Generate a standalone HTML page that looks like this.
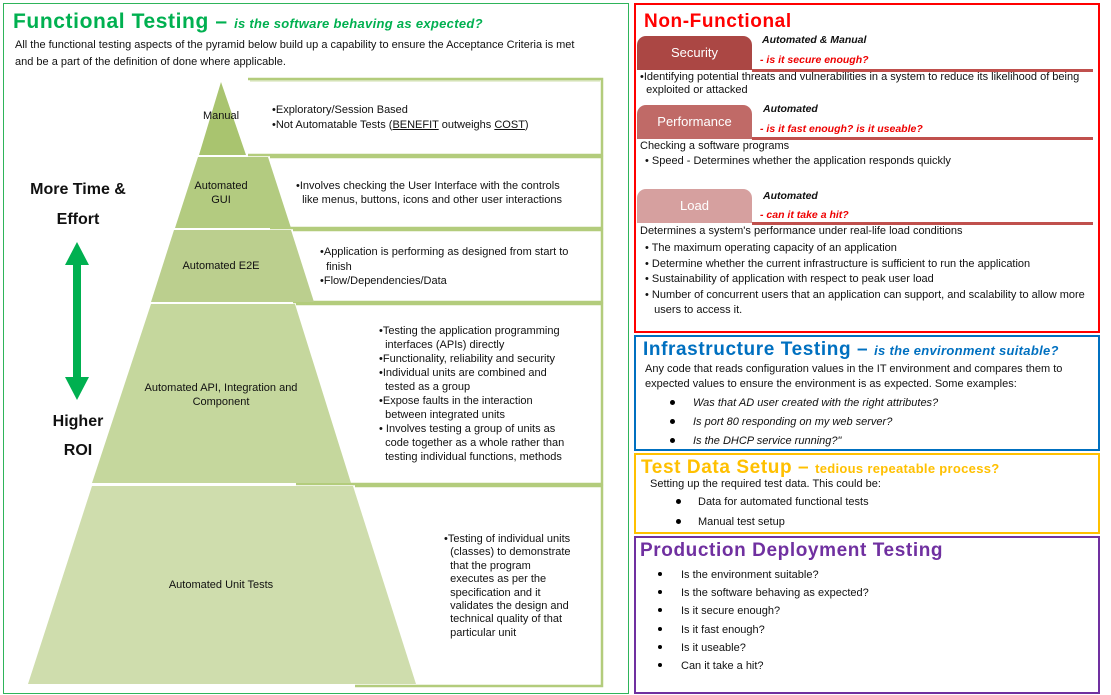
<!DOCTYPE html>
<html><head><meta charset="utf-8"><style>
*{margin:0;padding:0;box-sizing:border-box}
body{width:1111px;height:695px;background:#fff;position:relative;overflow:hidden;font-family:"Liberation Sans",sans-serif;color:#111}
.a{position:absolute;white-space:nowrap}
.s{font-size:11px;line-height:13px}
.box{position:absolute}
.tab{position:absolute;left:637px;width:115px;height:34px;border-radius:9px 9px 0 0;color:#fff;font-size:13px;text-align:center;line-height:34px}
.ln{position:absolute;left:752px;width:341px;height:3px;background:#c0504d}
.it{font-style:italic;font-weight:bold;font-size:10.5px}
.rd{color:#e00;font-style:italic;font-weight:bold;font-size:10.5px}
.dot{position:absolute;width:5px;height:5px;border-radius:50%;background:#000}
.t{font-weight:900;letter-spacing:0.6px}
</style></head><body>
<div class="box" style="left:3px;top:3px;width:626px;height:691px;border:1px solid #2eb45a"></div>
<svg class="box" style="left:0;top:0" width="630" height="695">
<g fill="none" stroke="#b3cc7c" stroke-width="2.5">
<path d="M248 79H602V155H248"/><path d="M270 157H602V228H270"/><path d="M293 230H602V302H293"/><path d="M296 304H602V484H296"/><path d="M355 486H602V686H355"/>
</g>
<line x1="250" y1="81" x2="600" y2="81" stroke="#cfdfae" stroke-width="1"/>
<polygon points="221,82 246,155 199,155" fill="#a9c46f"/>
<polygon points="198,157 268,157 291,228 175,228" fill="#b3cb80"/>
<polygon points="174,230 291,230 314,302 151,302" fill="#bbcf8e"/>
<polygon points="151,304 295,304 351,483 92,483" fill="#c5d79d"/>
<polygon points="92,486 353,486 416,684 28,684" fill="#cfddad"/>
<polygon points="77,242 89,265 81,265 81,377 89,377 77,400 65,377 73,377 73,265 65,265" fill="#00b050"/>
</svg>
<div class="a t" style="left:13px;top:10px;font-size:21px;color:#00b050">Functional Testing – <span style="font-size:13px;font-style:italic;letter-spacing:0.3px">is the software behaving as expected?</span></div>
<div class="a s" style="left:15px;top:39px">All the functional testing aspects of the pyramid below build up a capability to ensure the Acceptance Criteria is met</div>
<div class="a s" style="left:15px;top:56px">and be a part of the definition of done where applicable.</div>
<div class="a" style="left:27px;top:181px;font-size:16px;font-weight:bold;width:102px;text-align:center">More Time &amp;</div>
<div class="a" style="left:27px;top:211px;font-size:16px;font-weight:bold;width:102px;text-align:center">Effort</div>
<div class="a" style="left:27px;top:413px;font-size:16px;font-weight:bold;width:102px;text-align:center">Higher</div>
<div class="a" style="left:27px;top:442px;font-size:16px;font-weight:bold;width:102px;text-align:center">ROI</div>
<div class="a s" style="left:171px;top:110px;width:100px;text-align:center">Manual</div>
<div class="a s" style="left:171px;top:179px;width:100px;text-align:center;line-height:14px">Automated<br>GUI</div>
<div class="a s" style="left:171px;top:260px;width:100px;text-align:center">Automated E2E</div>
<div class="a s" style="left:121px;top:381px;width:200px;text-align:center;line-height:14px">Automated API, Integration and<br>Component</div>
<div class="a s" style="left:121px;top:579px;width:200px;text-align:center">Automated Unit Tests</div>
<div class="a s" style="left:272px;top:103px;line-height:15px">•Exploratory/Session Based<br>•Not Automatable Tests (<u>BENEFIT</u> outweighs <u>COST</u>)</div>
<div class="a s" style="left:296px;top:179px;line-height:14px">•Involves checking the User Interface with the controls<br>&nbsp;&nbsp;like menus, buttons, icons and other user interactions</div>
<div class="a s" style="left:320px;top:245px;line-height:14.5px">•Application is performing as designed from start to<br>&nbsp;&nbsp;finish<br>•Flow/Dependencies/Data</div>
<div class="a s" style="left:379px;top:324px;line-height:14px">•Testing the application programming<br>&nbsp;&nbsp;interfaces (APIs) directly<br>•Functionality, reliability and security<br>•Individual units are combined and<br>&nbsp;&nbsp;tested as a group<br>•Expose faults in the interaction<br>&nbsp;&nbsp;between integrated units<br>• Involves testing a group of units as<br>&nbsp;&nbsp;code together as a whole rather than<br>&nbsp;&nbsp;testing individual functions, methods</div>
<div class="a s" style="left:444px;top:533px;line-height:13.4px">•Testing of individual units<br>&nbsp;&nbsp;(classes) to demonstrate<br>&nbsp;&nbsp;that the program<br>&nbsp;&nbsp;executes as per the<br>&nbsp;&nbsp;specification and it<br>&nbsp;&nbsp;validates the design and<br>&nbsp;&nbsp;technical quality of that<br>&nbsp;&nbsp;particular unit</div>

<div class="box" style="left:634px;top:3px;width:466px;height:330px;border:2px solid #f00"></div>
<div class="box" style="left:634px;top:335px;width:466px;height:116px;border:2px solid #0070c0"></div>
<div class="box" style="left:634px;top:453px;width:466px;height:81px;border:2px solid #ffc000"></div>
<div class="box" style="left:634px;top:536px;width:466px;height:158px;border:2px solid #7030a0"></div>

<div class="a t" style="left:644px;top:11px;font-size:19px;color:#f00">Non-Functional</div>
<div class="tab" style="top:36px;background:#ab4744">Security</div>
<div class="ln" style="top:69px"></div>
<div class="a it" style="left:762px;top:34px">Automated &amp; Manual</div>
<div class="a rd" style="left:760px;top:54px">- is it secure enough?</div>
<div class="a s" style="left:640px;top:71px;line-height:13px">•Identifying potential threats and vulnerabilities in a system to reduce its likelihood of being<br>&nbsp;&nbsp;exploited or attacked</div>
<div class="tab" style="top:105px;background:#c06a67">Performance</div>
<div class="ln" style="top:137px"></div>
<div class="a it" style="left:763px;top:103px">Automated</div>
<div class="a rd" style="left:760px;top:123px">- is it fast enough? is it useable?</div>
<div class="a s" style="left:640px;top:140px">Checking a software programs</div>
<div class="a s" style="left:645px;top:155px">• Speed - Determines whether the application responds quickly</div>
<div class="tab" style="top:189px;background:#d6a09f">Load</div>
<div class="ln" style="top:222px"></div>
<div class="a it" style="left:763px;top:190px">Automated</div>
<div class="a rd" style="left:760px;top:209px">- can it take a hit?</div>
<div class="a s" style="left:640px;top:225px">Determines a system's performance under real-life load conditions</div>
<div class="a s" style="left:645px;top:241px;line-height:15.5px">• The maximum operating capacity of an application<br>• Determine whether the current infrastructure is sufficient to run the application<br>• Sustainability of application with respect to peak user load<br>• Number of concurrent users that an application can support, and scalability to allow more<br>&nbsp;&nbsp;&nbsp;users to access it.</div>

<div class="a t" style="left:643px;top:339px;font-size:19px;color:#0070c0">Infrastructure Testing – <span style="font-size:13px;font-style:italic;letter-spacing:0.3px">is the environment suitable?</span></div>
<div class="a s" style="left:645px;top:362px;line-height:15px">Any code that reads configuration values in the IT environment and compares them to<br>expected values to ensure the environment is as expected. Some examples:</div>
<div class="dot" style="left:670px;top:400px"></div><div class="a s" style="left:693px;top:397px;font-style:italic">Was that AD user created with the right attributes?</div>
<div class="dot" style="left:670px;top:419px"></div><div class="a s" style="left:693px;top:416px;font-style:italic">Is port 80 responding on my web server?</div>
<div class="dot" style="left:670px;top:438px"></div><div class="a s" style="left:693px;top:435px;font-style:italic">Is the DHCP service running?"</div>

<div class="a t" style="left:641px;top:457px;font-size:19px;color:#ffc000">Test Data Setup – <span style="font-size:13px;letter-spacing:0.3px">tedious repeatable process?</span></div>
<div class="a s" style="left:650px;top:478px">Setting up the required test data. This could be:</div>
<div class="dot" style="left:676px;top:499px"></div><div class="a s" style="left:698px;top:496px">Data for automated functional tests</div>
<div class="dot" style="left:676px;top:519px"></div><div class="a s" style="left:698px;top:516px">Manual test setup</div>

<div class="a t" style="left:640px;top:540px;font-size:19px;color:#7030a0">Production Deployment Testing</div>
<div class="dot" style="left:658px;top:572px;width:4px;height:4px"></div><div class="a s" style="left:681px;top:569px">Is the environment suitable?</div>
<div class="dot" style="left:658px;top:590px;width:4px;height:4px"></div><div class="a s" style="left:681px;top:587px">Is the software behaving as expected?</div>
<div class="dot" style="left:658px;top:608px;width:4px;height:4px"></div><div class="a s" style="left:681px;top:605px">Is it secure enough?</div>
<div class="dot" style="left:658px;top:627px;width:4px;height:4px"></div><div class="a s" style="left:681px;top:624px">Is it fast enough?</div>
<div class="dot" style="left:658px;top:645px;width:4px;height:4px"></div><div class="a s" style="left:681px;top:642px">Is it useable?</div>
<div class="dot" style="left:658px;top:663px;width:4px;height:4px"></div><div class="a s" style="left:681px;top:660px">Can it take a hit?</div>
</body></html>
